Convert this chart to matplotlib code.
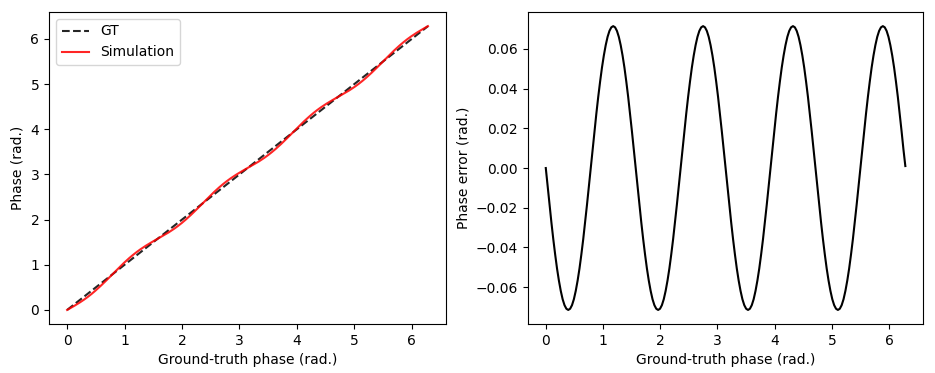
import numpy as np
import matplotlib
matplotlib.use("Agg")
import matplotlib.pyplot as plt

# ground-truth phase samples, 0 .. 2*pi
gt_phase = np.linspace(0, 2 * np.pi, 193)

# phase error (simulation - GT)
phase_error = [
    0.0, -0.0093, -0.0185, -0.0274, -0.0358, -0.0435, -0.0506, -0.0567, -0.0619, -0.0661, -0.0691, -0.0709,
    -0.0715, -0.0709, -0.0691, -0.0661, -0.0619, -0.0567, -0.0506, -0.0435, -0.0358, -0.0274, -0.0185, -0.0093,
    0.0, 0.0093, 0.0185, 0.0274, 0.0358, 0.0435, 0.0506, 0.0567, 0.0619, 0.0661, 0.0691, 0.0709,
    0.0715, 0.0709, 0.0691, 0.0661, 0.0619, 0.0567, 0.0506, 0.0435, 0.0358, 0.0274, 0.0185, 0.0093,
    0.0, -0.0093, -0.0185, -0.0274, -0.0358, -0.0435, -0.0506, -0.0567, -0.0619, -0.0661, -0.0691, -0.0709,
    -0.0715, -0.0709, -0.0691, -0.0661, -0.0619, -0.0567, -0.0506, -0.0435, -0.0358, -0.0274, -0.0185, -0.0093,
    0.0, 0.0093, 0.0185, 0.0274, 0.0358, 0.0435, 0.0506, 0.0567, 0.0619, 0.0661, 0.0691, 0.0709,
    0.0715, 0.0709, 0.0691, 0.0661, 0.0619, 0.0567, 0.0506, 0.0435, 0.0358, 0.0274, 0.0185, 0.0093,
    0.0, -0.0093, -0.0185, -0.0274, -0.0358, -0.0435, -0.0506, -0.0567, -0.0619, -0.0661, -0.0691, -0.0709,
    -0.0715, -0.0709, -0.0691, -0.0661, -0.0619, -0.0567, -0.0506, -0.0435, -0.0358, -0.0274, -0.0185, -0.0093,
    0.0, 0.0093, 0.0185, 0.0274, 0.0358, 0.0435, 0.0506, 0.0567, 0.0619, 0.0661, 0.0691, 0.0709,
    0.0715, 0.0709, 0.0691, 0.0661, 0.0619, 0.0567, 0.0506, 0.0435, 0.0358, 0.0274, 0.0185, 0.0093,
    0.0, -0.0093, -0.0185, -0.0274, -0.0358, -0.0435, -0.0506, -0.0567, -0.0619, -0.0661, -0.0691, -0.0709,
    -0.0715, -0.0709, -0.0691, -0.0661, -0.0619, -0.0567, -0.0506, -0.0435, -0.0358, -0.0274, -0.0185, -0.0093,
    0.0, 0.0093, 0.0185, 0.0274, 0.0358, 0.0435, 0.0506, 0.0567, 0.0619, 0.0661, 0.0691, 0.0709,
    0.0715, 0.0709, 0.0691, 0.0661, 0.0619, 0.0567, 0.0506, 0.0435, 0.0358, 0.0274, 0.0185, 0.0093,
    0.001,
]

sim_phase = gt_phase + np.array(phase_error)

fig = plt.figure(figsize=(9.35, 3.73), dpi=100)
ax1 = fig.add_axes([0.0525, 0.131, 0.4245, 0.837])
ax2 = fig.add_axes([0.5645, 0.131, 0.4230, 0.837])

ax1.plot(gt_phase, gt_phase, "k--", label="GT", alpha=0.85)
ax1.plot(gt_phase, sim_phase, "r", label="Simulation", alpha=0.85)
ax1.set_xlabel("Ground-truth phase (rad.)")
ax1.set_ylabel("Phase (rad.)")
ax1.legend(loc="upper left")

ax2.plot(gt_phase, phase_error, "k")
ax2.set_xlabel("Ground-truth phase (rad.)")
ax2.set_ylabel("Phase error (rad.)")

fig.savefig("out.png", dpi=100)
